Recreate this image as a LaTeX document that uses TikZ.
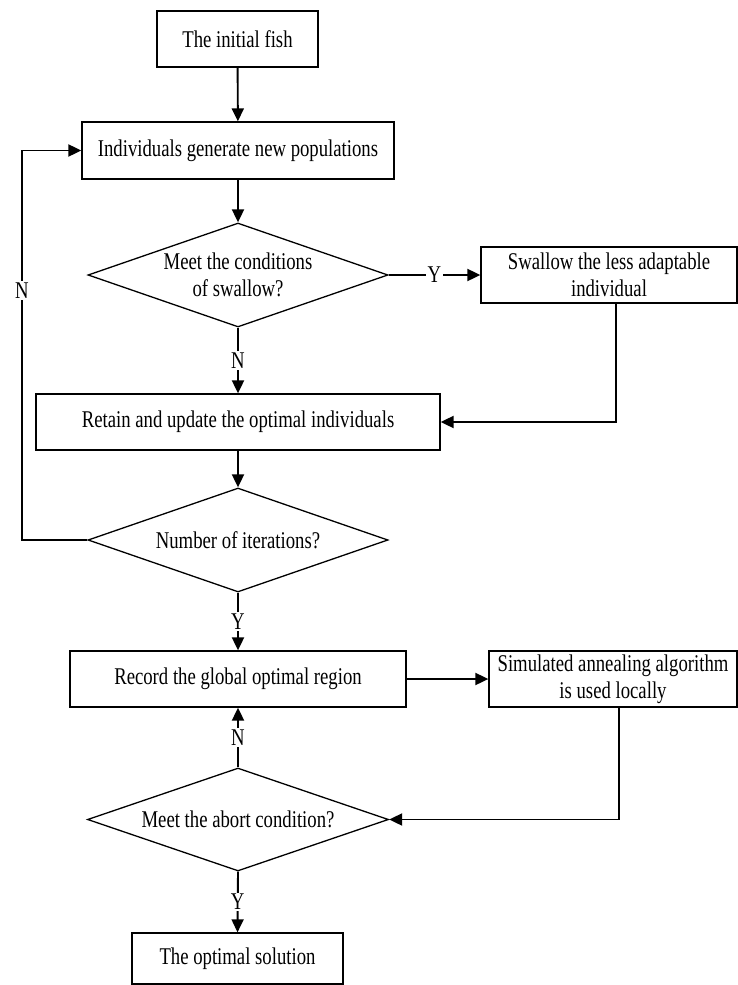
\documentclass[tikz,border=0pt]{standalone}
\usepackage{fontspec}
\setmainfont{Liberation Serif}
\newfontfamily\fcfam{Liberation Serif}[FakeStretch=0.78]
\usetikzlibrary{shapes.geometric,arrows.meta}
\newcommand{\fcfont}{\fcfam\fontsize{24}{27}\selectfont}
\tikzset{
  box/.style={draw, rectangle, line width=1.3pt, minimum height=56pt, inner sep=0pt, align=center, font=\fcfont},
  dec/.style={draw, diamond, line width=1.3pt, aspect=2.9, inner sep=0pt, minimum width=300pt, minimum height=104pt, align=center, font=\fcfont},
  arr/.style={-{Triangle[length=13pt,width=12pt]}, line width=1.9pt},
  lab/.style={fill=white, inner sep=1.5pt, font=\fcfont},
}
\begin{document}
\begin{tikzpicture}[x=1pt,y=-1pt]
\useasboundingbox (0,0) rectangle (738,985);
\node[box, minimum width=161pt] (b1) at (237.5,39) {The initial fish};
\node[box, minimum width=312pt, minimum height=57pt] (b2) at (238,150.5) {Individuals generate new populations};
\node[dec] (d1) at (238,275) {Meet the conditions\\of swallow?};
\node[box, minimum width=256pt] (b3) at (609,275) {Swallow the less adaptable\\individual};
\node[box, minimum width=404pt] (b4) at (238,422) {Retain and update the optimal individuals};
\node[dec] (d2) at (238,540) {Number of iterations?};
\node[box, minimum width=336pt] (b5) at (238,679) {Record the global optimal region};
\node[box, minimum width=248pt] (b6) at (613,679) {Simulated annealing algorithm\\is used locally};
\node[dec, minimum width=301pt, minimum height=103pt] (d3) at (238,819.5) {Meet the abort condition?};
\node[box, minimum width=211pt, minimum height=51pt] (b7) at (237.5,958.5) {The optimal solution};
\coordinate (lp) at (22,540);

\draw[arr] (b1) -- (b2);
\draw[arr] (b2) -- (d1);
\draw[arr] (d1.east) -- node[lab] {Y} (b3.west);
\draw[arr] (d1.south) -- node[lab] {N} (b4.north);
\draw[arr] ([xshift=7pt]b3.south) |- (b4.east);
\draw[arr] (b4) -- (d2);
\draw[arr] (d2.west) -- (lp) |- node[lab, pos=0.32] {N} (b2.west);
\draw[arr] (d2.south) -- node[lab] {Y} (b5.north);
\draw[arr] (b5.east) -- (b6.west);
\draw[arr] ([xshift=6pt]b6.south) |- (d3.east);
\draw[arr] (d3.north) -- node[lab] {N} (b5.south);
\draw[arr] (d3.south) -- node[lab] {Y} (b7.north);
\end{tikzpicture}
\end{document}
